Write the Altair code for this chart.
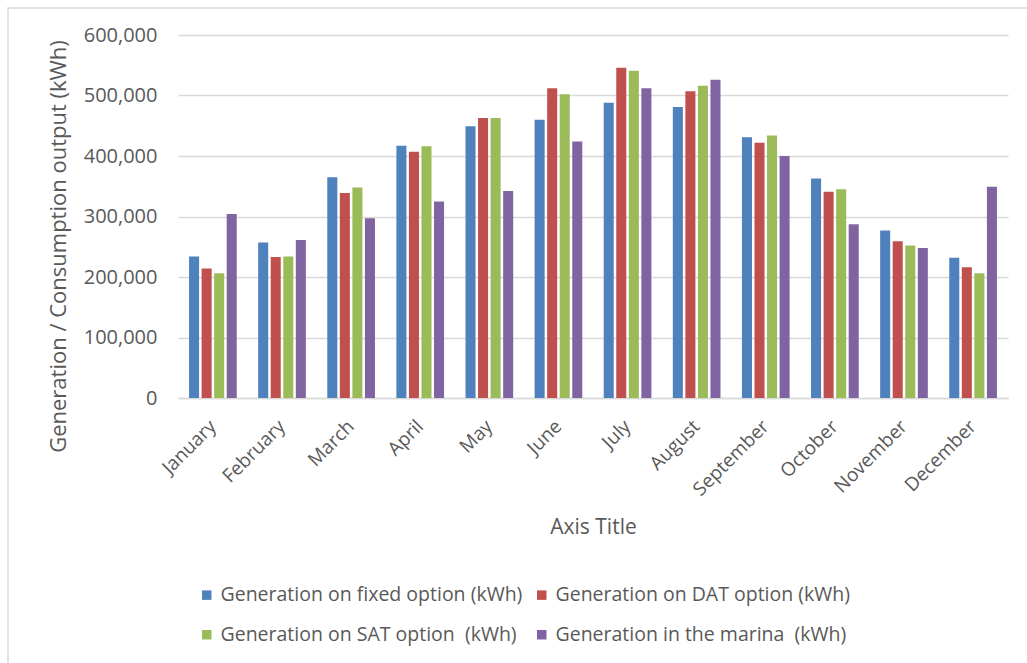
import altair as alt
import pandas as pd

months = ["January", "February", "March", "April", "May", "June", "July",
          "August", "September", "October", "November", "December"]
series = ["Generation on fixed option (kWh)", "Generation on DAT option (kWh)",
          "Generation on SAT option\u00a0 (kWh)", "Generation in the marina\u00a0 (kWh)"]
fixed = [234000, 257000, 365000, 417000, 449000, 460000, 488000, 481000, 431000, 363000, 277000, 232000]
dat = [214000, 233000, 339000, 407000, 463000, 512000, 546000, 507000, 422000, 341000, 259000, 216000]
sat = [206000, 234000, 348000, 416000, 463000, 502000, 541000, 516000, 434000, 345000, 252000, 206000]
marina = [304000, 261000, 297000, 325000, 342000, 424000, 512000, 526000, 400000, 287000, 248000, 349000]
colors = ["#4F81BD", "#C0504D", "#9BBB59", "#8064A2"]

rows = []
for s, vals in zip(series, [fixed, dat, sat, marina]):
    for m, v in zip(months, vals):
        rows.append({"month": m, "series": s, "value": v})
df = pd.DataFrame(rows)

FONT = "Open Sans"
TXT = "#595959"

bars = alt.Chart(df).mark_bar().encode(
    x=alt.X("month:N", sort=months,
            scale=alt.Scale(paddingInner=0.31, paddingOuter=0.16),
            axis=alt.Axis(title="Axis Title", labelAngle=-45, labelAlign="right",
                          labelBaseline="middle", labelPadding=25, ticks=False,
                          domain=True, domainColor="#d9d9d9", domainWidth=1.5,
                          labelFontSize=19, labelColor=TXT, labelFont=FONT,
                          titleFontSize=21, titleColor=TXT, titleFont=FONT,
                          titleFontWeight="normal", titleY=129, titleBaseline="middle")),
    xOffset=alt.XOffset("series:N", sort=series, scale=alt.Scale(paddingInner=0.2)),
    y=alt.Y("value:Q", scale=alt.Scale(domain=[0, 600000], nice=False),
            axis=alt.Axis(title="Generation / Consumption output (kWh)", format=",.0f",
                          values=[0, 100000, 200000, 300000, 400000, 500000, 600000],
                          ticks=False, domain=False, labelPadding=21,
                          gridColor="#d9d9d9", gridWidth=1.5,
                          labelFontSize=20, labelColor=TXT, labelFont=FONT,
                          titleFontSize=22, titleColor=TXT, titleFont=FONT,
                          titleFontWeight="normal", titleX=-120, titleY=211,
                          titleAngle=-90, titleBaseline="middle")),
    color=alt.Color("series:N", sort=series,
                    scale=alt.Scale(domain=series, range=colors),
                    legend=alt.Legend(title=None, orient="none", legendX=19, legendY=550,
                                      direction="horizontal",
                                      columns=2, symbolType="square", symbolSize=90,
                                      symbolStrokeWidth=0, labelFontSize=19.5,
                                      labelOffset=4,
                                      labelColor=TXT, labelFont=FONT, rowPadding=19,
                                      columnPadding=9, labelLimit=400)),
)

frame = alt.Chart(pd.DataFrame({"a": [0]})).mark_rect(
    fill=None, stroke="#d9d9d9", strokeWidth=1.5
).encode(x=alt.value(-170), x2=alt.value(860), y=alt.value(-27), y2=alt.value(700))

chart = alt.layer(frame, bars).properties(
    width=830, height=363,
    padding={"left": 178, "top": 35, "right": 19, "bottom": 265},
    autosize="none",
).configure_view(stroke=None)

chart.save("out.html", embed_options={"renderer": "svg", "actions": False})
